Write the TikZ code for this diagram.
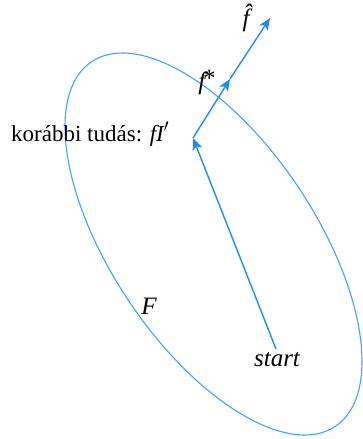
\documentclass[tikz,border=0pt]{standalone}
\usepackage{fontspec}
\setmainfont{Liberation Serif}
\usetikzlibrary{arrows.meta}
\definecolor{arrowblue}{RGB}{30,140,255}
\definecolor{ellblue}{RGB}{70,160,255}
\tikzset{
  conn/.style={draw=arrowblue, line width=1.4pt, -{Stealth[length=12pt,width=10pt,inset=3pt]}},
  lbl/.style={inner sep=0pt, font=\fontsize{23}{27}\selectfont},
  ilbl/.style={inner sep=0pt, font=\fontsize{25}{29}\selectfont\itshape},
}
\begin{document}
\begin{tikzpicture}[x=1pt,y=1pt]
\useasboundingbox (0,0) rectangle (362,-439);
\draw[ellblue, line width=1.1pt, rotate around={-56.25:(213.5,-244)}] (213.5,-244) ellipse [x radius=219.3, y radius=102.1];
\coordinate (s) at (276,-349);
\coordinate (p1) at (193,-138);
\coordinate (p2) at (230,-79);
\coordinate (p3) at (270,-18);
\draw[conn] (s) -- (p1);
\draw[conn] (p1) -- (p2);
\draw[conn] (p2) -- (p3);
\node[ilbl] (fhat) at (246,-18) {\^f};
\node[ilbl] (fstar) at (207,-82) {f\kern-2pt\raisebox{3pt}{\upshape *}};
\node[lbl, anchor=base west] (kt) at (11,-141) {korábbi tudás: \textit{fI}\kern-1pt$'$};
\node[ilbl] (F) at (149,-306) {F};
\node[ilbl] (start) at (277,-360) {start};
\end{tikzpicture}
\end{document}
